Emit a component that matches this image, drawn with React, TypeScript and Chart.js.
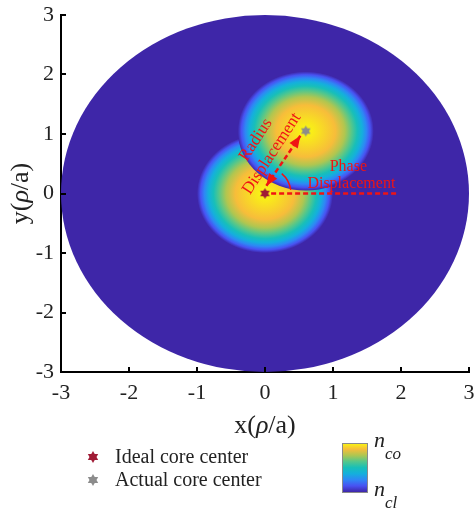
import React, { useEffect, useRef } from 'react';
import { Chart, registerables } from 'chart.js';

Chart.register(...registerables);

// ---- data ----
const axisTicks = [-3, -2, -1, 0, 1, 2, 3];
const claddingCenter = [0, 0];
const claddingRadius = [3];
const coreRadius = [1];
const idealCenter = [0, 0];
const actualCenter = [0.6, 1.05];
const radiusArrowX = [0.02, 0.52];
const radiusArrowY = [0.13, 0.97];
const phaseLineX = [0.09, 1.95];
const phaseLineY = [0, 0];
const legendLabels = ['Ideal core center', 'Actual core center'];
const colorbarSubs = ['co', 'cl'];
const radiusLabelLines = ['Radius', 'Displacement'];
const phaseLabelLines = ['Phase', 'Displacement'];
const profileExponent = 2.5;

// parula-like colormap stops (value -> rgb)
const parulaVals = [0, 0.125, 0.25, 0.375, 0.5, 0.625, 0.75, 0.875, 1];
const parulaCols = [
  '#3e26a8', '#4852f2', '#2e87f5', '#14b0dc', '#18bfb8',
  '#56c78a', '#b0c650', '#f7bd3a', '#f9fb0e',
];

const SERIF = '"Liberation Serif", "Times New Roman", serif';
const RED = '#f01414';
const IDEAL_COLOR = '#a01c36';
const ACTUAL_COLOR = '#8c8c8c';

function makeStar(color: string, r: number) {
  const c = document.createElement('canvas');
  const s = Math.ceil(r * 2 + 2);
  c.width = s;
  c.height = s;
  const g = c.getContext('2d')!;
  const cx = s / 2, cy = s / 2;
  g.fillStyle = color;
  for (const off of [-Math.PI / 2, Math.PI / 2]) {
    g.beginPath();
    for (let i = 0; i < 3; i++) {
      const a = off + (i * 2 * Math.PI) / 3;
      const x = cx + r * Math.cos(a), y = cy + r * Math.sin(a);
      if (i) g.lineTo(x, y); else g.moveTo(x, y);
    }
    g.closePath();
    g.fill();
  }
  return c;
}

function drawBlob(ctx: CanvasRenderingContext2D, chart: any, center: number[], radius: number) {
  const xs = chart.scales.x, ys = chart.scales.y;
  const cx = xs.getPixelForValue(center[0]);
  const cy = ys.getPixelForValue(center[1]);
  const rx = xs.getPixelForValue(center[0] + radius) - cx;
  const ry = cy - ys.getPixelForValue(center[1] + radius);
  ctx.save();
  ctx.translate(cx, cy);
  ctx.scale(1, ry / rx);
  const g = ctx.createRadialGradient(0, 0, 0, 0, 0, rx);
  for (let i = parulaVals.length - 1; i >= 0; i--) {
    const v = parulaVals[i];
    g.addColorStop(Math.pow(1 - v, 1 / profileExponent), parulaCols[i]);
  }
  ctx.fillStyle = g;
  ctx.beginPath();
  ctx.arc(0, 0, rx, 0, Math.PI * 2);
  ctx.fill();
  ctx.restore();
}

const backgroundPlugin = {
  id: 'fiberBackground',
  beforeDatasetsDraw(chart: any) {
    const ctx = chart.ctx;
    const xs = chart.scales.x, ys = chart.scales.y;
    const cx = xs.getPixelForValue(claddingCenter[0]);
    const cy = ys.getPixelForValue(claddingCenter[1]);
    const rx = xs.getPixelForValue(claddingCenter[0] + claddingRadius[0]) - cx;
    const ry = cy - ys.getPixelForValue(claddingCenter[1] + claddingRadius[0]);
    ctx.save();
    ctx.fillStyle = parulaCols[0];
    ctx.beginPath();
    ctx.ellipse(cx, cy, rx, ry, 0, 0, Math.PI * 2);
    ctx.fill();
    ctx.restore();
    drawBlob(ctx, chart, idealCenter, coreRadius[0]);
    drawBlob(ctx, chart, actualCenter, coreRadius[0]);
  },
};

function arrowHead(ctx: CanvasRenderingContext2D, x: number, y: number, ang: number, len: number, w: number) {
  ctx.beginPath();
  ctx.moveTo(x, y);
  ctx.lineTo(x - len * Math.cos(ang) + (w / 2) * Math.sin(ang), y - len * Math.sin(ang) - (w / 2) * Math.cos(ang));
  ctx.lineTo(x - len * Math.cos(ang) - (w / 2) * Math.sin(ang), y - len * Math.sin(ang) + (w / 2) * Math.cos(ang));
  ctx.closePath();
  ctx.fill();
}

function drawMixed(ctx: CanvasRenderingContext2D, parts: [string, boolean][], size: number, cx: number, cy: number) {
  let total = 0;
  const widths: number[] = [];
  for (const [t, it] of parts) {
    ctx.font = `${it ? 'italic ' : ''}${size}px ${SERIF}`;
    const w = ctx.measureText(t).width;
    widths.push(w);
    total += w;
  }
  let x = cx - total / 2;
  ctx.textAlign = 'left';
  ctx.textBaseline = 'middle';
  parts.forEach(([t, it], i) => {
    ctx.font = `${it ? 'italic ' : ''}${size}px ${SERIF}`;
    ctx.fillText(t, x, cy);
    x += widths[i];
  });
}

const overlayPlugin = {
  id: 'overlay',
  afterDatasetsDraw(chart: any) {
    const ctx = chart.ctx;
    const xs = chart.scales.x, ys = chart.scales.y;
    const x0 = xs.getPixelForValue(radiusArrowX[0]), y0 = ys.getPixelForValue(radiusArrowY[0]);
    const x1 = xs.getPixelForValue(radiusArrowX[1]), y1 = ys.getPixelForValue(radiusArrowY[1]);
    const ang = Math.atan2(y1 - y0, x1 - x0);
    ctx.save();
    ctx.fillStyle = RED;
    arrowHead(ctx, x1, y1, ang, 12, 10);
    arrowHead(ctx, x0, y0, ang + Math.PI, 12, 10);
    const cx = xs.getPixelForValue(idealCenter[0]), cy = ys.getPixelForValue(idealCenter[1]);
    const ang2 = Math.atan2(ys.getPixelForValue(actualCenter[1]) - cy, xs.getPixelForValue(actualCenter[0]) - cx);
    ctx.strokeStyle = RED;
    ctx.lineWidth = 1.5;
    ctx.beginPath();
    ctx.arc(cx, cy, 26, ang2 + 0.12, -0.14);
    ctx.stroke();
    ctx.restore();
  },
  afterDraw(chart: any) {
    const ctx = chart.ctx;
    const xs = chart.scales.x, ys = chart.scales.y;
    const area = chart.chartArea;
    ctx.save();
    // inward ticks
    ctx.strokeStyle = '#000';
    ctx.lineWidth = 2;
    ctx.beginPath();
    for (const v of axisTicks) {
      const px = Math.round(xs.getPixelForValue(v));
      ctx.moveTo(px, area.bottom);
      ctx.lineTo(px, area.bottom - 5);
      const py = Math.round(ys.getPixelForValue(v));
      ctx.moveTo(area.left, py);
      ctx.lineTo(area.left + 5, py);
    }
    ctx.stroke();

    // axis titles
    ctx.fillStyle = '#222';
    drawMixed(ctx, [['x(', false], ['\u03C1', true], ['/a)', false]], 26, (area.left + area.right) / 2, area.bottom + 54);
    ctx.save();
    ctx.translate(21, (area.top + area.bottom) / 2);
    ctx.rotate(-Math.PI / 2);
    drawMixed(ctx, [['y(', false], ['\u03C1', true], ['/a)', false]], 26, 0, 0);
    ctx.restore();

    // annotations
    ctx.fillStyle = RED;
    ctx.textAlign = 'center';
    ctx.textBaseline = 'middle';
    const icx = xs.getPixelForValue(idealCenter[0]), icy = ys.getPixelForValue(idealCenter[1]);
    const acx = xs.getPixelForValue(actualCenter[0]), acy = ys.getPixelForValue(actualCenter[1]);
    const rang = Math.atan2(acy - icy, acx - icx);
    const mx = (icx + acx) / 2, my = (icy + acy) / 2;
    ctx.font = `17px ${SERIF}`;
    ctx.save();
    ctx.translate(mx - 22, my - 14);
    ctx.rotate(rang);
    ctx.fillText(radiusLabelLines[0], 3, -11);
    ctx.fillText(radiusLabelLines[1], 0, 10);
    ctx.restore();
    ctx.font = `16px ${SERIF}`;
    const pxl = (xs.getPixelForValue(phaseLineX[0]) + xs.getPixelForValue(phaseLineX[1])) / 2 + 17;
    const pyl = ys.getPixelForValue(phaseLineY[0]);
    ctx.fillText(phaseLabelLines[0], pxl - 3, pyl - 27);
    ctx.fillText(phaseLabelLines[1], pxl, pyl - 10);

    // legend
    const lx = 93;
    const ly = [457, 480];
    const stars = [makeStar(IDEAL_COLOR, 6), makeStar(ACTUAL_COLOR, 6)];
    ctx.fillStyle = '#222';
    ctx.font = `20px ${SERIF}`;
    ctx.textAlign = 'left';
    ctx.textBaseline = 'middle';
    legendLabels.forEach((lab, i) => {
      ctx.drawImage(stars[i], lx - stars[i].width / 2, ly[i] - stars[i].height / 2);
      ctx.fillText(lab, 115, ly[i] + 1);
    });

    // colorbar
    const cbx = 342, cby = 443, cbw = 25, cbh = 49;
    const lg = ctx.createLinearGradient(0, cby + cbh, 0, cby);
    parulaVals.forEach((v, i) => lg.addColorStop(v, parulaCols[i]));
    ctx.fillStyle = lg;
    ctx.fillRect(cbx, cby, cbw, cbh);
    ctx.strokeStyle = '#8a8a8a';
    ctx.lineWidth = 1;
    ctx.strokeRect(cbx + 0.5, cby + 0.5, cbw, cbh);
    ctx.fillStyle = '#222';
    ctx.textBaseline = 'alphabetic';
    ctx.font = `italic 22px ${SERIF}`;
    ctx.fillText('n', 374, 447);
    ctx.fillText('n', 374, 496);
    ctx.font = `italic 17px ${SERIF}`;
    ctx.fillText(colorbarSubs[0], 385, 459);
    ctx.fillText(colorbarSubs[1], 385, 508);
    ctx.restore();
  },
};

export default function App() {
  const ref = useRef<HTMLCanvasElement>(null);
  useEffect(() => {
    const canvas = ref.current!;
    const idealStar = makeStar(IDEAL_COLOR, 5.5);
    const actualStar = makeStar(ACTUAL_COLOR, 5.5);
    const tickFont = { family: SERIF, size: 22 };
    const chart = new Chart(canvas, {
      type: 'scatter',
      data: {
        datasets: [
          {
            label: legendLabels[0],
            data: [{ x: idealCenter[0], y: idealCenter[1] }],
            pointStyle: idealStar as any,
            pointRadius: 6,
            backgroundColor: IDEAL_COLOR,
          },
          {
            label: legendLabels[1],
            data: [{ x: actualCenter[0], y: actualCenter[1] }],
            pointStyle: actualStar as any,
            pointRadius: 6,
            backgroundColor: ACTUAL_COLOR,
          },
          {
            type: 'line',
            label: 'Radius Displacement',
            data: radiusArrowX.map((x, i) => ({ x, y: radiusArrowY[i] })),
            borderColor: RED,
            borderWidth: 2.5,
            borderDash: [5, 3],
            pointRadius: 0,
            fill: false,
          } as any,
          {
            type: 'line',
            label: 'Phase Displacement',
            data: phaseLineX.map((x, i) => ({ x, y: phaseLineY[i] })),
            borderColor: RED,
            borderWidth: 2.5,
            borderDash: [5, 3],
            pointRadius: 0,
            fill: false,
          } as any,
        ],
      },
      options: {
        responsive: false,
        maintainAspectRatio: false,
        animation: false,
        layout: { padding: { left: 0, top: 15, right: 6, bottom: 0 } },
        plugins: { legend: { display: false }, tooltip: { enabled: false } },
        scales: {
          x: {
            type: 'linear',
            min: -3,
            max: 3,
            afterBuildTicks: (s: any) => { s.ticks = axisTicks.map((v) => ({ value: v })); },
            afterFit: (s: any) => { s.height = 139; s.paddingLeft = 0; s.paddingRight = 0; },
            grid: { display: false, drawTicks: false },
            border: { display: true, color: '#000', width: 2 },
            ticks: { font: tickFont, color: '#222', padding: 8, maxRotation: 0, autoSkip: false, callback: (v: any) => String(v) },
          },
          y: {
            type: 'linear',
            min: -3,
            max: 3,
            afterBuildTicks: (s: any) => { s.ticks = axisTicks.map((v) => ({ value: v })); },
            afterFit: (s: any) => { s.width = 61; s.paddingTop = 0; s.paddingBottom = 0; },
            grid: { display: false, drawTicks: false },
            border: { display: true, color: '#000', width: 2 },
            ticks: { font: tickFont, color: '#222', padding: 7, autoSkip: false, callback: (v: any) => String(v) },
          },
        },
      },
      plugins: [backgroundPlugin, overlayPlugin],
    });
    return () => chart.destroy();
  }, []);
  return (
    <div style={{ position: 'fixed', left: 0, top: 0, width: 476, height: 511, background: '#fff' }}>
      <canvas ref={ref} width={476} height={511} style={{ display: 'block' }} />
    </div>
  );
}
